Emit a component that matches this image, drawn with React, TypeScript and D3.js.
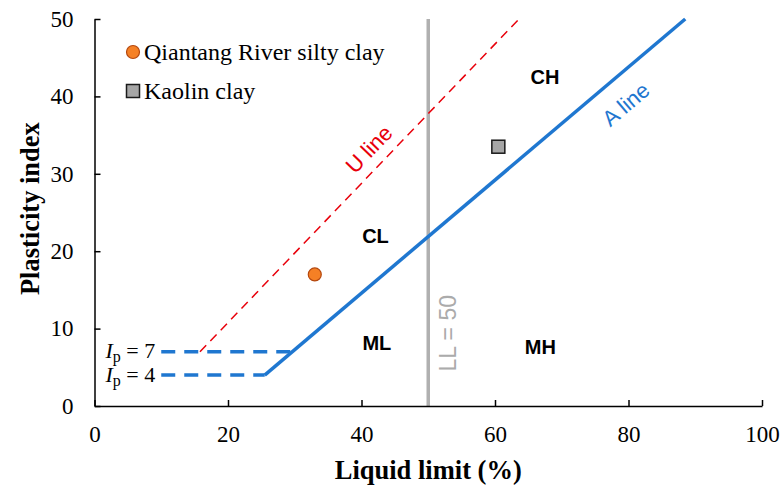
import React, { useEffect, useRef } from "react";
import * as d3 from "d3";

// plasticity chart data
const xTicks = [0, 20, 40, 60, 80, 100];
const yTicks = [0, 10, 20, 30, 40, 50];

const aLine: [number, number][] = [[25.5, 4], [88.5, 50]];
const uLine: [number, number][] = [[15.8, 7], [63.6, 50]];
const ip4Line: [number, number][] = [[10, 4], [25.5, 4]];
const ip7Line: [number, number][] = [[10, 7], [29.6, 7]];
const llLine: [number, number][] = [[50, 0], [50, 50]];

const qiantang = [{ ll: 33, pi: 17 }];
const kaolin = [{ ll: 60.5, pi: 33.5 }];

const zoneLabels = [
  { text: "CH", ll: 67.5, pi: 42.5 },
  { text: "CL", ll: 42.1, pi: 21.9 },
  { text: "ML", ll: 42.3, pi: 8.1 },
  { text: "MH", ll: 66.8, pi: 7.6 },
];

export default function App() {
  const svgRef = useRef<SVGSVGElement>(null);

  useEffect(() => {
    const width = 782;
    const height = 486;
    const svg = d3.select(svgRef.current);
    svg.selectAll("*").remove();
    svg.attr("width", width).attr("height", height).style("font-family", "'Liberation Serif', 'Times New Roman', serif");

    const x = d3.scaleLinear().domain([0, 100]).range([94.5, 762]);
    const y = d3.scaleLinear().domain([0, 50]).range([406, 19]);
    const line = d3.line<[number, number]>().x((d) => x(d[0])).y((d) => y(d[1]));

    const blue = "#1f77d0";
    const red = "#e8000b";
    const sans = "'Liberation Sans', Arial, sans-serif";

    // LL = 50
    svg.append("path").attr("d", line(llLine)).attr("stroke", "#b0b0b0").attr("stroke-width", 3.5).attr("fill", "none");

    // axes
    const xAxis = svg.append("g").attr("transform", `translate(0,${y(0)})`)
      .call(d3.axisBottom(x).tickValues(xTicks).tickSizeInner(-6).tickSizeOuter(0).tickPadding(20));
    xAxis.select(".domain").attr("stroke", "#000").attr("stroke-width", 1.5);
    xAxis.selectAll(".tick line").attr("stroke", "#000").attr("stroke-width", 1.5);
    xAxis.selectAll("text").style("font-size", "23px").style("font-family", "'Liberation Serif', serif").attr("fill", "#000");

    const yAxis = svg.append("g").attr("transform", `translate(${x(0)},0)`)
      .call(d3.axisLeft(y).tickValues(yTicks).tickSizeInner(-6).tickSizeOuter(0).tickPadding(21));
    yAxis.select(".domain").attr("stroke", "#000").attr("stroke-width", 1.5);
    yAxis.selectAll(".tick line").attr("stroke", "#000").attr("stroke-width", 1.5);
    yAxis.selectAll("text").style("font-size", "23px").style("font-family", "'Liberation Serif', serif").attr("fill", "#000");

    // lines
    svg.append("path").attr("d", line(ip4Line)).attr("stroke", blue).attr("stroke-width", 3.5)
      .attr("stroke-dasharray", "14,9").attr("fill", "none");
    svg.append("path").attr("d", line(ip7Line)).attr("stroke", blue).attr("stroke-width", 3.5)
      .attr("stroke-dasharray", "14,9").attr("fill", "none");
    svg.append("path").attr("d", line(uLine)).attr("stroke", red).attr("stroke-width", 1.5)
      .attr("stroke-dasharray", "9,6").attr("fill", "none");
    svg.append("path").attr("d", line(aLine)).attr("stroke", blue).attr("stroke-width", 3.5).attr("fill", "none");

    // points
    svg.selectAll(".q").data(qiantang).enter().append("circle")
      .attr("cx", (d) => x(d.ll)).attr("cy", (d) => y(d.pi)).attr("r", 6.5)
      .attr("fill", "#f58025").attr("stroke", "#b4470e").attr("stroke-width", 1.2);
    svg.selectAll(".k").data(kaolin).enter().append("rect")
      .attr("x", (d) => x(d.ll) - 6.5).attr("y", (d) => y(d.pi) - 6.5).attr("width", 13).attr("height", 13)
      .attr("fill", "#a6a6a6").attr("stroke", "#1a1a1a").attr("stroke-width", 1.5);

    // zone labels
    svg.selectAll(".zone").data(zoneLabels).enter().append("text")
      .attr("x", (d) => x(d.ll)).attr("y", (d) => y(d.pi)).attr("text-anchor", "middle").attr("dy", "0.35em")
      .style("font-family", sans).style("font-weight", "bold").style("font-size", "20px")
      .text((d) => d.text);

    // line labels
    const aAng = -Math.atan((0.73 * (y(0) - y(1))) / (x(1) - x(0))) * 180 / Math.PI;
    const uAng = -Math.atan((0.9 * (y(0) - y(1))) / (x(1) - x(0))) * 180 / Math.PI;
    svg.append("text").attr("transform", `translate(${x(79.6)},${y(39)}) rotate(${aAng})`)
      .attr("text-anchor", "middle").attr("dy", "0.35em")
      .style("font-family", sans).style("font-size", "22px").attr("fill", blue).text("A line");
    svg.append("text").attr("transform", `translate(${x(41.1)},${y(33.2)}) rotate(${uAng})`)
      .attr("text-anchor", "middle").attr("dy", "0.35em")
      .style("font-family", sans).style("font-size", "22px").attr("fill", red).text("U line");
    svg.append("text").attr("transform", `translate(${x(52.9)},${y(9.4)}) rotate(-90)`)
      .attr("text-anchor", "middle").attr("dy", "0.35em")
      .style("font-family", sans).style("font-size", "23px").attr("fill", "#ababab").text("LL = 50");

    // Ip labels
    [[7, "7"], [4, "4"]].forEach(([v, s]) => {
      const t = svg.append("text").attr("x", x(9.1)).attr("y", y(v as number)).attr("dy", "0.3em")
        .attr("text-anchor", "end").style("font-size", "22px");
      t.append("tspan").style("font-style", "italic").text("I");
      t.append("tspan").attr("dy", "4").style("font-size", "16px").text("p");
      t.append("tspan").attr("dy", "-4").text(` = ${s}`);
    });

    // legend
    svg.append("circle").attr("cx", 133).attr("cy", 52).attr("r", 6.5)
      .attr("fill", "#f58025").attr("stroke", "#b4470e").attr("stroke-width", 1.2);
    svg.append("text").attr("x", 144).attr("y", 52).attr("dy", "0.35em").style("font-size", "24px").text("Qiantang River silty clay");
    svg.append("rect").attr("x", 126.5).attr("y", 84.5).attr("width", 13).attr("height", 13)
      .attr("fill", "#a6a6a6").attr("stroke", "#1a1a1a").attr("stroke-width", 1.5);
    svg.append("text").attr("x", 144).attr("y", 91).attr("dy", "0.35em").style("font-size", "24px").text("Kaolin clay");

    // axis titles
    svg.append("text").attr("x", x(50)).attr("y", 479).attr("text-anchor", "middle")
      .style("font-size", "26.5px").style("font-weight", "bold").text("Liquid limit (%)");
    svg.append("text").attr("transform", `translate(30,${y(25.5)}) rotate(-90)`).attr("text-anchor", "middle")
      .attr("dy", "0.35em").style("font-size", "26.5px").style("font-weight", "bold").text("Plasticity index");
  }, []);

  return <svg ref={svgRef} style={{ position: "absolute", left: 0, top: 0 }} />;
}
